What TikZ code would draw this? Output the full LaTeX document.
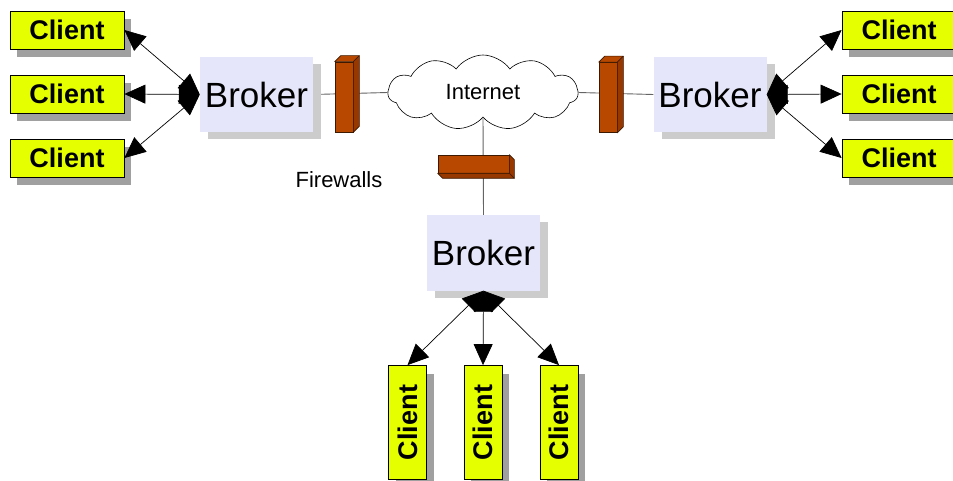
\documentclass[tikz,border=0pt]{standalone}
\usepackage{fontspec}
\setmainfont{Liberation Sans}
\usetikzlibrary{arrows.meta,shapes.symbols,shadows,backgrounds}
\definecolor{clientfill}{RGB}{230,255,0}
\definecolor{clientshadow}{RGB}{160,160,160}
\definecolor{brokerfill}{RGB}{230,230,250}
\definecolor{brokershadow}{RGB}{204,204,204}
\definecolor{wallfront}{RGB}{184,72,0}
\definecolor{wallside}{RGB}{150,56,0}
\definecolor{wallline}{RGB}{60,25,0}
\definecolor{linkgray}{RGB}{100,100,100}
\begin{document}
\begin{tikzpicture}[x=1pt,y=-1pt,
  client/.style={draw=black, line width=0.8pt, fill=clientfill,
    minimum width=114pt, minimum height=38pt, inner sep=0pt,
    font=\fontsize{27}{27}\selectfont\bfseries,
    drop shadow={shadow xshift=7pt, shadow yshift=-8pt, fill=clientshadow, opacity=1}},
  broker/.style={fill=brokerfill, minimum width=113pt, minimum height=75pt,
    inner sep=0pt, font=\fontsize{35}{35}\selectfont,
    drop shadow={shadow xshift=8pt, shadow yshift=-7pt, fill=brokershadow, opacity=1}},
  wall/.style={draw=wallline, line width=0.6pt, fill=wallfront, inner sep=0pt},
  wallface/.style={draw=wallline, line width=0.6pt, fill=#1, line join=round},
  link/.style={draw=linkgray, line width=0.9pt},
  dataflow/.style={draw=black, line width=0.7pt,
    {Triangle[length=21pt,width=19pt]}-{Triangle[length=21pt,width=19pt]}},
]
\useasboundingbox (0,0) rectangle (953,481);

% brokers
\node[broker] (bL) at (256.5,94.5) {Broker};
\node[broker] (bR) at (710,94.5) {Broker};
\node[broker] (bB) at (483.5,253) {Broker};

% internet cloud
\node[cloud, draw=black, line width=0.6pt, fill=white, cloud puffs=11,
      cloud puff arc=110, cloud ignores aspect,
      minimum width=190pt, minimum height=75pt,
      font=\fontsize{22}{22}\selectfont] (net) at (483,92.5) {Internet};

% clients on the left
\node[client] (cL1) at (67,30) {Client};
\node[client] (cL2) at (67,94) {Client};
\node[client] (cL3) at (67,158) {Client};

% clients on the right
\node[client] (cR1) at (899,30) {Client};
\node[client] (cR2) at (899,94) {Client};
\node[client] (cR3) at (899,158) {Client};

% clients below, standing upright
\node[client, rotate=90] (cB1) at (407.5,422.5) {Client};
\node[client, rotate=90] (cB2) at (483,422.5) {Client};
\node[client, rotate=90] (cB3) at (559,422.5) {Client};

% firewalls: front faces
\node[wall, minimum width=18pt, minimum height=70pt] (fwL) at (344,97) {};
\node[wall, minimum width=18pt, minimum height=70pt] (fwR) at (608,97.5) {};
\node[wall, minimum width=71pt, minimum height=18pt] (fwB) at (473.5,164) {};

% firewalls: top and side faces of the upright walls
\foreach \w in {fwL,fwR}{
  \filldraw[wallface=wallfront] (\w.north west) -- ([shift={(6,-6)}]\w.north west)
    -- ([shift={(6,-6)}]\w.north east) -- (\w.north east) -- cycle;
  \filldraw[wallface=wallside] (\w.north east) -- ([shift={(6,-6)}]\w.north east)
    -- ([shift={(6,-6)}]\w.south east) -- (\w.south east) -- cycle;
}
% firewalls: side and bottom faces of the lying wall
\filldraw[wallface=wallside] (fwB.north east) -- ([shift={(5,5)}]fwB.north east)
  -- ([shift={(5,5)}]fwB.south east) -- (fwB.south east) -- cycle;
\filldraw[wallface=wallside] (fwB.south west) -- ([shift={(5,5)}]fwB.south west)
  -- ([shift={(5,5)}]fwB.south east) -- (fwB.south east) -- cycle;

\node[font=\fontsize{22}{22}\selectfont] (fwlabel) at (339,180) {Firewalls};

% network links behind the firewalls
\begin{scope}[on background layer]
  \draw[link] (bL.east) -- (net.west);
  \draw[link] (net.east) -- (bR.west);
  \draw[link] (net.south) -- (bB.north);
\end{scope}

% broker to client connections
\foreach \c in {cL1,cL2,cL3} \draw[dataflow] (bL.west) -- (\c.east);
\foreach \c in {cR1,cR2,cR3} \draw[dataflow] (bR.east) -- (\c.west);
\foreach \c in {cB1,cB2,cB3} \draw[dataflow] (bB.south) -- (\c.east);
\end{tikzpicture}
\end{document}
